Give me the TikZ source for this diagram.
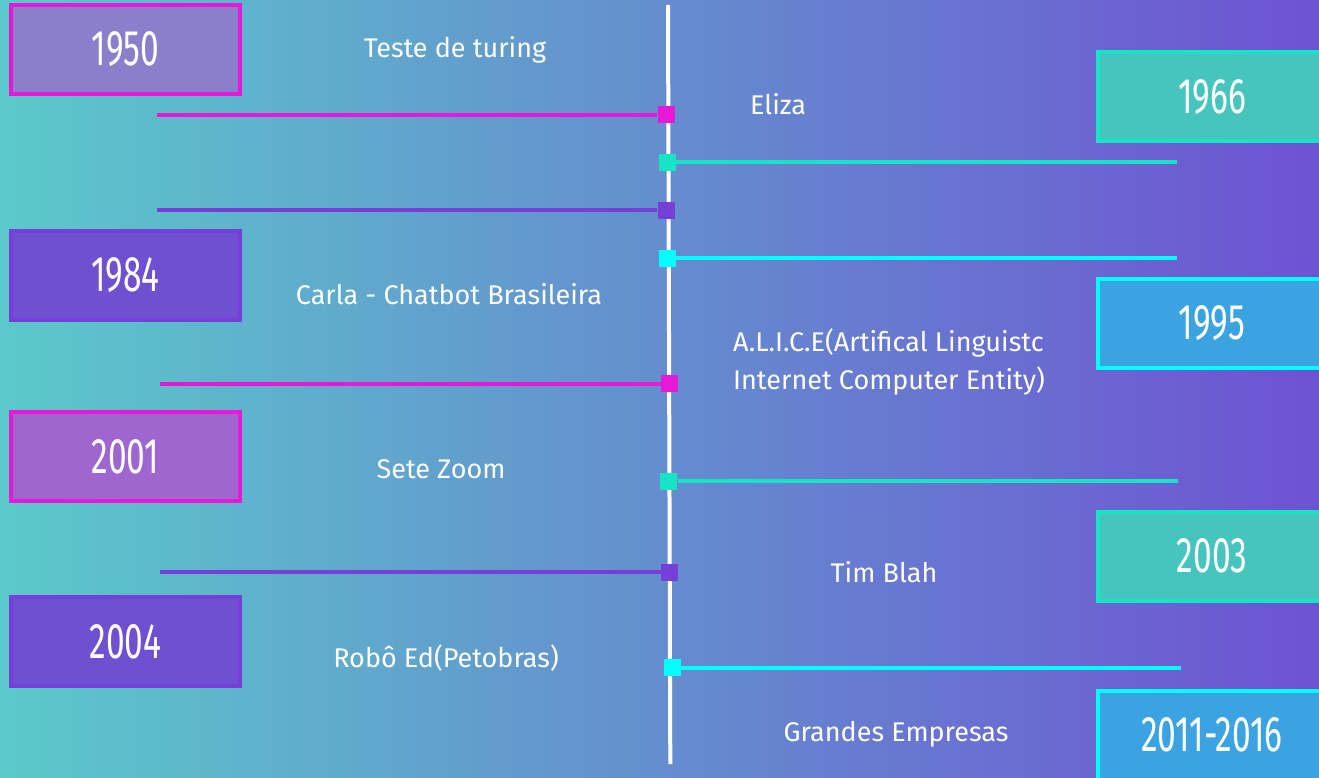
\documentclass[tikz,border=0pt]{standalone}
\usepackage{fontspec}
\setmainfont{Fira Sans}
\newfontfamily\yearfont[FakeStretch=0.67]{Fira Sans}
\definecolor{bgL}{HTML}{5BC9CA}
\definecolor{bgR}{HTML}{6E52D3}
\definecolor{cMag}{HTML}{E61AD6}
\definecolor{cTeal}{HTML}{17E4C4}
\definecolor{cPur}{HTML}{7640D8}
\definecolor{cCyan}{HTML}{00FFFF}
\definecolor{fLav}{HTML}{8B7FCC}
\definecolor{fOrchid}{HTML}{A066CF}
\definecolor{fPur}{HTML}{6E50D0}
\definecolor{fTeal}{HTML}{46C4BE}
\definecolor{fBlue}{HTML}{3CA3E3}
\begin{document}
\begin{tikzpicture}[x=1pt,y=-1pt,
  yearbox/.style={draw, line width=4pt, minimum width=229pt, minimum height=89pt,
     inner sep=0pt, text=white, font=\yearfont\fontsize{50}{50}\selectfont},
  marker/.style={rectangle, minimum size=17pt, inner sep=0pt},
  link/.style={line width=4pt},
  lbl/.style={text=white, font=\fontsize{27}{32}\selectfont, inner sep=0pt}
]
\useasboundingbox (0,0) rectangle (1319,778);
\begin{scope}
\clip (0,0) rectangle (1319,778);
\shade[left color=bgL, right color=bgR] (0,0) rectangle (1319,778);

% central line
\coordinate (top) at (668,5);
\coordinate (bot) at (670.3,764);
\draw[white, line width=4pt] (top) -- (bot);

% year boxes
\node[yearbox, draw=cMag, fill=fLav] (y1950) at (125.5,49.5) {1950};
\node[yearbox, draw=cPur, fill=fPur] (y1984) at (125.5,275.5) {1984};
\node[yearbox, draw=cMag, fill=fOrchid] (y2001) at (125.5,456.5) {2001};
\node[yearbox, draw=cPur, fill=fPur] (y2004) at (125.5,641.5) {2004};
\node[yearbox, draw=cTeal, fill=fTeal] (y1966) at (1212,97) {1966};
\node[yearbox, draw=cCyan, fill=fBlue] (y1995) at (1212,323.3) {1995};
\node[yearbox, draw=cTeal, fill=fTeal] (y2003) at (1212,556) {2003};
\node[yearbox, draw=cCyan, fill=fBlue] (y2011) at (1212,735.3) {2011-2016};

% line end coordinates
\coordinate (e1) at (157,114.7);
\coordinate (e2) at (1177,162.5);
\coordinate (e3) at (157,210.3);
\coordinate (e4) at (1177,258);
\coordinate (e5) at (160,383.8);
\coordinate (e6) at (1178,481.3);
\coordinate (e7) at (160,572.3);
\coordinate (e8) at (1181,667.5);

% markers
\node[marker, fill=cMag] (m1) at (666,114.7) {};
\node[marker, fill=cTeal] (m2) at (667.5,162.5) {};
\node[marker, fill=cPur] (m3) at (666,210.3) {};
\node[marker, fill=cCyan] (m4) at (667.5,258) {};
\node[marker, fill=cMag] (m5) at (669.5,383.8) {};
\node[marker, fill=cTeal] (m6) at (668.8,481.3) {};
\node[marker, fill=cPur] (m7) at (669.5,572.3) {};
\node[marker, fill=cCyan] (m8) at (672,667.5) {};

% connectors
\draw[link, cMag] (e1) -- (m1.west);
\draw[link, cTeal] (m2.east) -- (e2);
\draw[link, cPur] (e3) -- (m3.west);
\draw[link, cCyan] (m4.east) -- (e4);
\draw[link, cMag] (e5) -- (m5.west);
\draw[link, cTeal] (m6.east) -- (e6);
\draw[link, cPur] (e7) -- (m7.west);
\draw[link, cCyan] (m8.east) -- (e8);

% labels
\node[lbl] (l1) at (455,50) {Teste de turing};
\node[lbl] (l2) at (778,104) {Eliza};
\node[lbl] (l3) at (449,294) {Carla - Chatbot Brasileira};
\node[lbl, anchor=west, align=left, font=\fontsize{27}{38}\selectfont] (l4) at (733,362) {A.L.I.C.E(Artifical Linguistc\\Internet Computer Entity)};
\node[lbl] (l5) at (441,469) {Sete Zoom};
\node[lbl] (l6) at (884,572) {Tim Blah};
\node[lbl] (l7) at (446,658) {Robô Ed(Petobras)};
\node[lbl] (l8) at (896,734) {Grandes Empresas};
\end{scope}
\end{tikzpicture}
\end{document}
